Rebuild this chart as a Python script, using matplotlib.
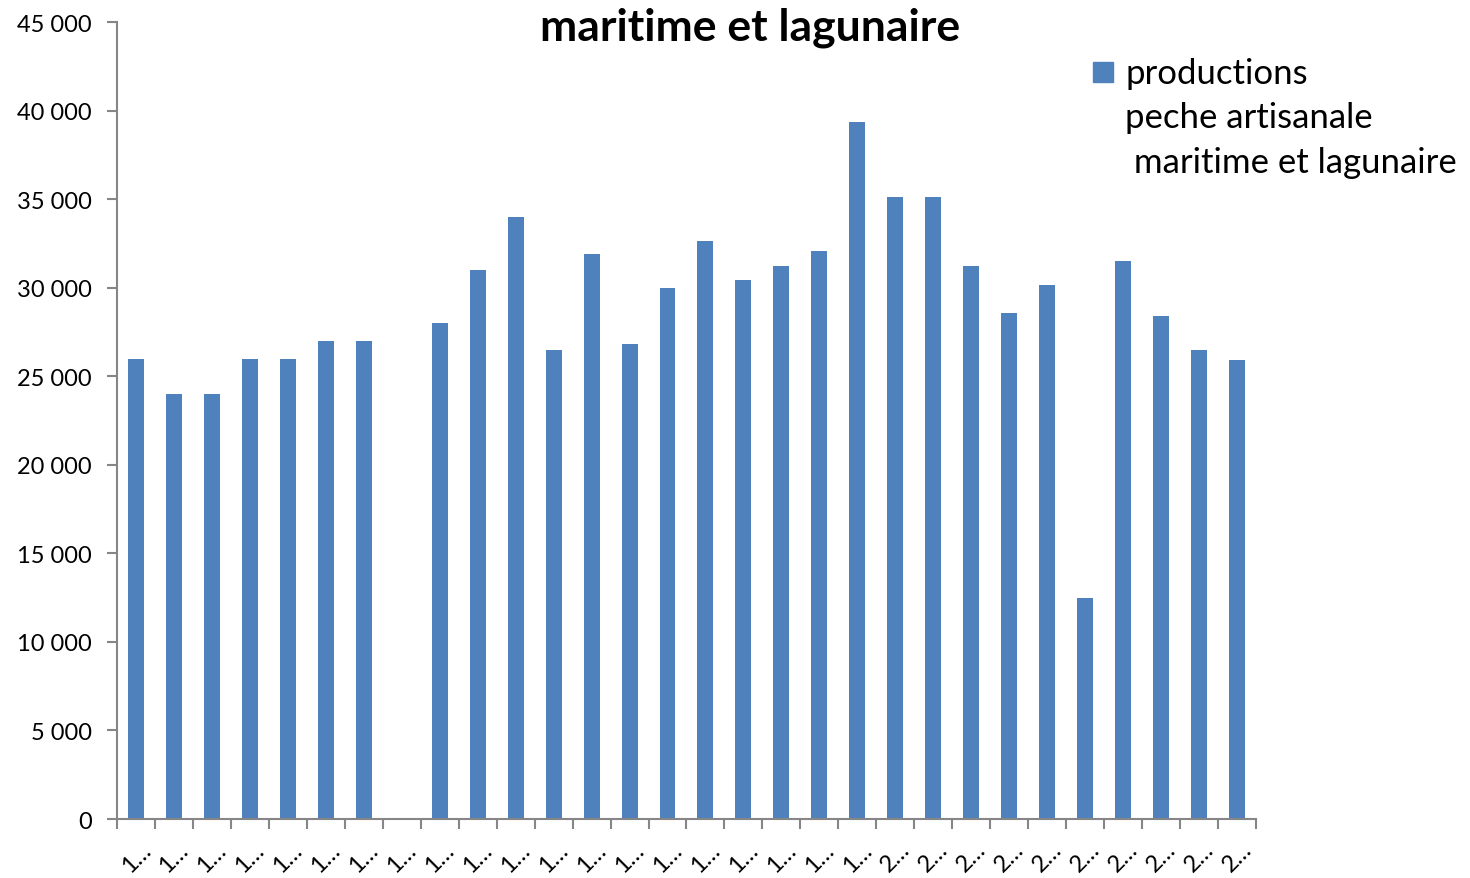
import matplotlib.pyplot as plt
from matplotlib.patches import Rectangle
import numpy as np

plt.rcParams['font.family'] = ['Lato', 'DejaVu Sans']

# Valeurs (30 années, étiquettes tronquées)
tick_labels = ["1…"] * 20 + ["2…"] * 10
production = [26000, 24000, 24000, 26000, 26000, 27000, 27000, 0, 28000, 31000,
              34000, 26500, 31900, 26800, 30000, 32650, 30450, 31200, 32100, 39350,
              35100, 35100, 31200, 28550, 30150, 12500, 31500, 28400, 26500, 25900]
series_name = "productions\npeche artisanale\n maritime et lagunaire"
bar_color = "#4F81BD"

fig = plt.figure(figsize=(14.7, 8.79), dpi=100)
ax = fig.add_axes([0.0796, 0.0671, 0.7748, 0.9067])

x = np.arange(len(production))
ax.bar(x, production, width=0.42, color=bar_color)

ax.set_xlim(-0.5, len(production) - 0.5)
ax.set_ylim(0, 45000)
ax.set_yticks(np.arange(0, 45001, 5000))
ax.set_yticklabels([f"{v:,}".replace(",", " ") for v in range(0, 45001, 5000)], fontsize=17)

# graduations entre les catégories, étiquettes au centre
ax.set_xticks(np.arange(-0.5, len(production), 1.0))
ax.set_xticklabels([])
ax.set_xticks(x, minor=True)
ax.set_xticklabels(tick_labels, minor=True, rotation=45, ha="center", va="top", fontsize=17)
ax.tick_params(axis="x", which="minor", length=0, pad=14)
ax.tick_params(axis="x", which="major", length=7, color="#868686", width=1.5, direction="out")
ax.tick_params(axis="y", length=7, color="#868686", width=1.5, pad=11)

for side in ["top", "right"]:
    ax.spines[side].set_visible(False)
for side in ["left", "bottom"]:
    ax.spines[side].set_color("#868686")
    ax.spines[side].set_linewidth(1.5)

fig.text(0.51, 0.992, "maritime et lagunaire", ha="center", va="top",
         fontsize=32, fontweight="bold")

# légende dessinée à la main (carré aligné sur la première ligne, style Excel)
fig.patches.append(Rectangle((1093 / 1470, 1 - 83 / 879), 20 / 1470, 20 / 879,
                             transform=fig.transFigure, color=bar_color))
fig.text(1125 / 1470, 1 - 58 / 879, series_name, ha="left", va="top",
         fontsize=25, linespacing=1.48)

fig.savefig("out.png", dpi=100)
